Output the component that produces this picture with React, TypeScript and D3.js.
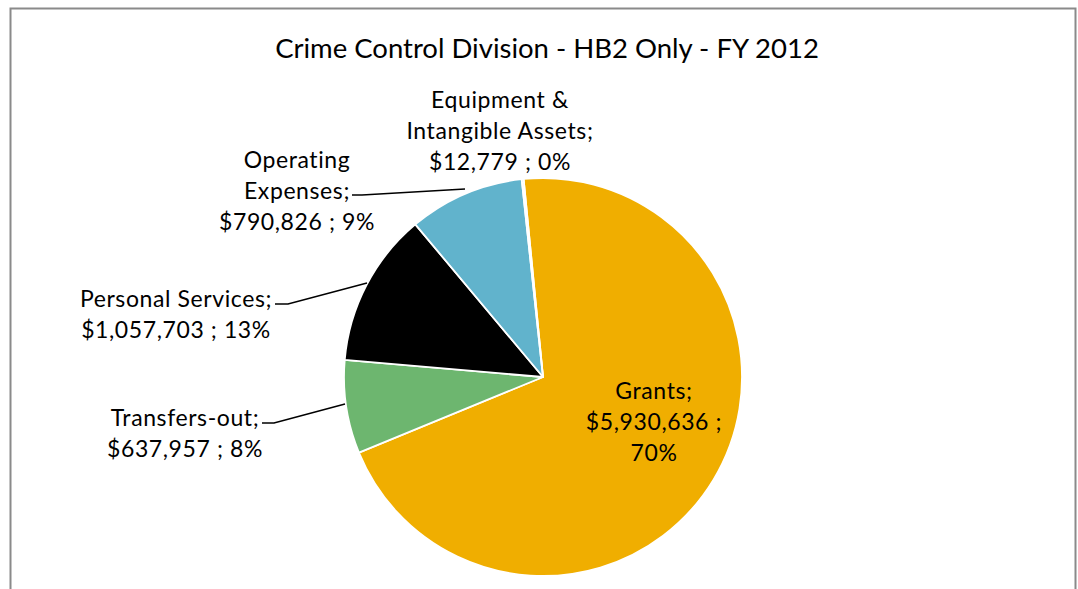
import React from "react";
import * as d3 from "d3";

const title = "Crime Control Division - HB2 Only - FY 2012";
const categories = ["Grants", "Transfers-out", "Personal Services", "Operating Expenses", "Equipment & Intangible Assets"];
const values = [5930636, 637957, 1057703, 790826, 12779];
const colors = ["#F0AE00", "#6DB66F", "#000000", "#61B3CC", "#8FA8C8"];
// how each category name is broken into lines
const nameLines = [["Grants;"], ["Transfers-out;"], ["Personal Services;"], ["Operating", "Expenses;"], ["Equipment &", "Intangible Assets;"]];
const splitValueLine = [true, false, false, false, false];

const W = 1078;
const H = 589;
const cx = 543;
const cy = 377;
const R = 199;
const startDeg = -5.6;
const lineH = 31;

// layout: label centre x and first baseline y
const labelAnchors: [number, number][] = [
  [654, 399],
  [185, 426],
  [176, 307],
  [297, 168],
  [500, 108],
];
// leader lines (layout)
const leaders: ([number, number][] | null)[] = [
  null,
  [[262, 423], [274, 423], [345, 404]],
  [[275, 304], [288, 304], [367, 283]],
  [[352, 195], [362, 195], [465, 189]],
  null,
];

export default function App() {
  const total = d3.sum(values);
  const pie = d3
    .pie<number>()
    .sort(null)
    .startAngle((startDeg * Math.PI) / 180)
    .endAngle((startDeg * Math.PI) / 180 + 2 * Math.PI);
  const arcs = pie(values);
  const arc = d3.arc<d3.PieArcDatum<number>>().innerRadius(0).outerRadius(R);
  const money = d3.format("$,");
  const pct = (v: number) => `${Math.round((v / total) * 100)}%`;

  const labelLines = values.map((v, i) => {
    const lines = [...nameLines[i]];
    if (splitValueLine[i]) {
      lines.push(`${money(v)} ;`, pct(v));
    } else {
      lines.push(`${money(v)} ; ${pct(v)}`);
    }
    return lines;
  });

  const font = "Lato, 'Open Sans', sans-serif";

  return (
    <svg width={W} height={H} style={{ position: "absolute", left: 0, top: 0, background: "#fff" }}>
      <rect x={0} y={0} width={W} height={H} fill="#fff" />
      <path d={`M10.5,${H} V8.5 H1075.5 V${H}`} fill="none" stroke="#8a8a8a" strokeWidth={2} />
      <text x={547} y={58} textAnchor="middle" fontFamily={font} fontSize={27.5} fill="#000">
        {title}
      </text>
      <g transform={`translate(${cx},${cy})`}>
        {arcs.map((a, i) => (
          <path key={categories[i]} d={arc(a) || ""} fill={colors[i]} stroke="#fff" strokeWidth={1.8} strokeLinejoin="round" />
        ))}
      </g>
      {leaders.map((pts, i) =>
        pts ? (
          <polyline key={"l" + i} points={pts.map((p) => p.join(",")).join(" ")} fill="none" stroke="#000" strokeWidth={1.5} />
        ) : null
      )}
      {labelLines.map((lines, i) => (
        <text key={"t" + i} textAnchor="middle" fontFamily={font} fontSize={23} fill="#000" letterSpacing={0.6}>
          {lines.map((ln, j) => (
            <tspan key={j} x={labelAnchors[i][0]} y={labelAnchors[i][1] + j * lineH}>
              {ln}
            </tspan>
          ))}
        </text>
      ))}
    </svg>
  );
}
